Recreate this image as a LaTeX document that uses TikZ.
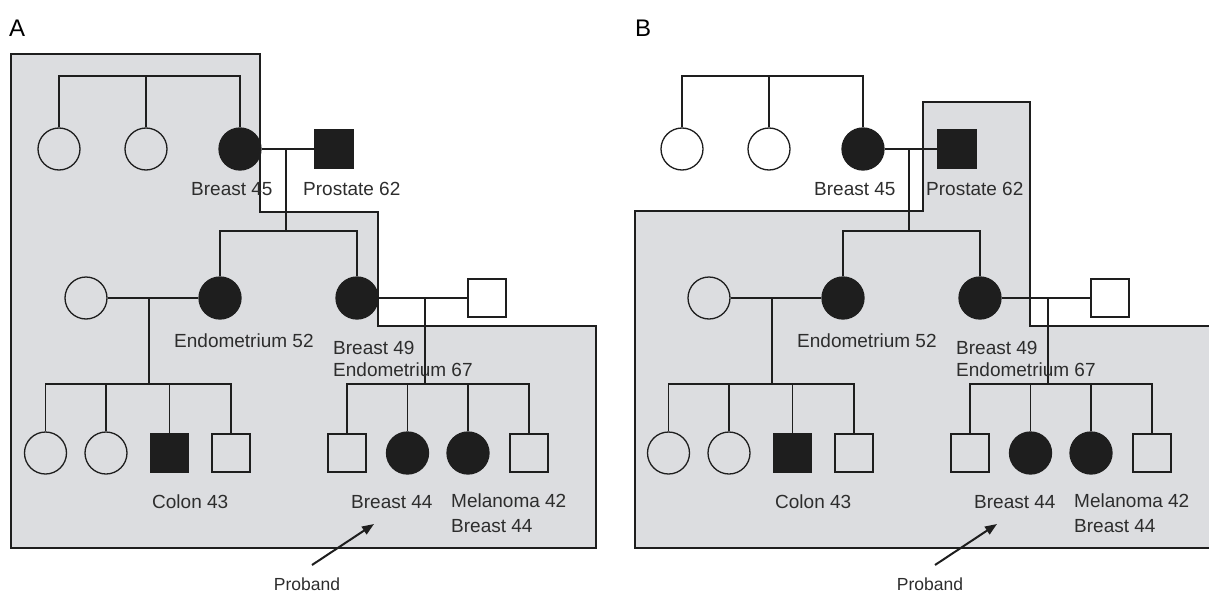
\documentclass[tikz,border=0pt]{standalone}
\usepackage{fontspec}
\setmainfont{Liberation Sans}
\usetikzlibrary{arrows.meta,calc}
\definecolor{shade}{RGB}{220,221,224}
\definecolor{ink}{RGB}{30,30,30}
\definecolor{txt}{RGB}{45,45,45}
\tikzset{
 pline/.style={draw=ink, line width=1.3pt},
 fem/.style={circle, draw=ink, line width=1.3pt, minimum size=42pt, inner sep=0pt},
 femA/.style={fem, fill=ink},
 mal/.style={rectangle, draw=ink, line width=1.3pt, minimum size=38pt, inner sep=0pt},
 malA/.style={mal, fill=ink},
 lbl/.style={anchor=base west, inner sep=0pt, text=txt, font=\fontsize{19}{23}\selectfont},
 problbl/.style={anchor=base, inner sep=0pt, text=txt, font=\fontsize{17.5}{21}\selectfont},
 panellbl/.style={anchor=base west, inner sep=0pt, text=black, font=\fontsize{24}{28}\selectfont},
 region/.style={fill=shade, draw=ink, line width=1.2pt},
 pointer/.style={draw=ink, line width=2pt, -{Triangle[length=12pt,width=9pt]}},
}
\newcommand\pedigree[1]{%
 % generation I
 \node[fem] (#1a1) at (59,149) {};
 \node[fem] (#1a2) at (146,149) {};
 \node[femA] (#1a3) at (240,149) {};
 \node[malA] (#1a4) at (334,149) {};
 \coordinate (#1s1) at (0,76);
 \draw[pline] (#1a1.north) -- (#1a1.north |- #1s1) -- (#1a3.north |- #1s1) -- (#1a3.north);
 \draw[pline] (#1a2.north) -- (#1a2.north |- #1s1);
 \draw[pline] (#1a3.east) -- (#1a4.west);
 \coordinate (#1m1) at (286,149);
 \coordinate (#1s2) at (0,231);
 \draw[pline] (#1m1) -- (#1m1 |- #1s2);
 % generation II
 \node[fem] (#1b1) at (86,298) {};
 \node[femA] (#1b2) at (220,298) {};
 \node[femA] (#1b3) at (357,298) {};
 \node[mal] (#1b4) at (487,298) {};
 \draw[pline] (#1b2.north) -- (#1b2.north |- #1s2) -- (#1b3.north |- #1s2) -- (#1b3.north);
 \draw[pline] (#1b1.east) -- (#1b2.west);
 \draw[pline] (#1b3.east) -- (#1b4.west);
 \coordinate (#1m2) at (149,298);
 \coordinate (#1m3) at (425,298);
 \coordinate (#1s3) at (0,384);
 \draw[pline] (#1m2) -- (#1m2 |- #1s3);
 \draw[pline] (#1m3) -- (#1m3 |- #1s3);
 % generation III
 \node[fem] (#1c1) at (45.5,453) {};
 \node[fem] (#1c2) at (106,453) {};
 \node[malA] (#1c3) at (169.5,453) {};
 \node[mal] (#1c4) at (231,453) {};
 \node[mal] (#1c5) at (347,453) {};
 \node[femA] (#1c6) at (407.5,453) {};
 \node[femA] (#1c7) at (468,453) {};
 \node[mal] (#1c8) at (529,453) {};
 \draw[pline] (#1c1.north) -- (#1c1.north |- #1s3) -- (#1c4.north |- #1s3) -- (#1c4.north);
 \draw[pline] (#1c2.north) -- (#1c2.north |- #1s3);
 \draw[pline] (#1c3.north) -- (#1c3.north |- #1s3);
 \draw[pline] (#1c5.north) -- (#1c5.north |- #1s3) -- (#1c8.north |- #1s3) -- (#1c8.north);
 \draw[pline] (#1c6.north) -- (#1c6.north |- #1s3);
 \draw[pline] (#1c7.north) -- (#1c7.north |- #1s3);
 % labels
 \node[lbl] (#1t1) at (191,195) {Breast 45};
 \node[lbl] (#1t2) at (303,195) {Prostate 62};
 \node[lbl] (#1t3) at (174,347) {Endometrium 52};
 \node[lbl] (#1t4) at (333,354) {Breast 49};
 \node[lbl] (#1t5) at (333,376) {Endometrium 67};
 \node[lbl] (#1t6) at (152,508) {Colon 43};
 \node[lbl] (#1t7) at (351,508) {Breast 44};
 \node[lbl] (#1t8) at (451,507) {Melanoma 42};
 \node[lbl] (#1t9) at (451,532) {Breast 44};
 % proband pointer
 \coordinate (#1p1) at (312,565);
 \coordinate (#1p2) at (374,524);
 \draw[pointer] (#1p1) -- (#1p2);
 \node[problbl] (#1prob) at (307,590) {Proband};
}
\begin{document}
\begin{tikzpicture}[x=1pt,y=-1pt]
\useasboundingbox (0,0) rectangle (1209,594);
\begin{scope}
\clip (0,0) rectangle (1209,594);
\path[region] (11,54) -- (260,54) -- (260,212) -- (378,212) -- (378,326) -- (596,326) -- (596,548) -- (11,548) -- cycle;
\path[region] (635,211) -- (923,211) -- (923,102) -- (1030,102) -- (1030,326) -- (1220,326) -- (1220,548) -- (635,548) -- cycle;
\end{scope}
\pedigree{A}
\begin{scope}[xshift=623pt]
\pedigree{B}
\end{scope}
\node[panellbl] (labA) at (9,37) {A};
\node[panellbl] (labB) at (635,37) {B};
\end{tikzpicture}
\end{document}
